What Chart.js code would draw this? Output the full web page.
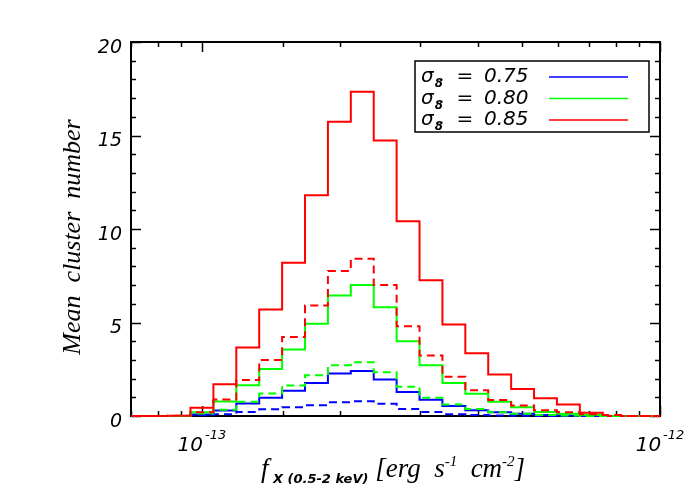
<!DOCTYPE html>
<html>
<head>
<meta charset="utf-8">
<script src="https://cdn.jsdelivr.net/npm/chart.js@4/dist/chart.umd.min.js"></script>
<style>
  html, body { margin: 0; padding: 0; background: #fff; }
  #wrap { width: 700px; height: 500px; }
</style>
</head>
<body>
<div id="wrap"><canvas id="chart" width="700" height="500"></canvas></div>
<script>
// bin centres, log10 of flux (0.05 dex bins)
const logFlux = [-13.15, -13.10, -13.05, -13.00, -12.95, -12.90, -12.85, -12.80,
  -12.75, -12.70, -12.65, -12.60, -12.55, -12.50, -12.45, -12.40,
  -12.35, -12.30, -12.25, -12.20, -12.15, -12.10, -12.05, -12.00];

// mean cluster number per bin, solid and dashed for each sigma_8
const blueSolid = [0, 0, 0, 0.08, 0.29, 0.67, 0.97, 1.35, 1.77, 2.27, 2.40, 1.95,
  1.29, 0.87, 0.53, 0.31, 0.20, 0.12, 0.06, 0.03, 0, 0, 0, 0];
const blueDash = [0, 0, 0, 0.04, 0.10, 0.22, 0.36, 0.47, 0.58, 0.74, 0.79, 0.65,
  0.37, 0.22, 0.10, 0.06, 0.03, 0.02, 0, 0, 0, 0, 0, 0];
const greenSolid = [0, 0, 0, 0.20, 0.78, 1.65, 2.52, 3.56, 4.93, 6.44, 7.00, 5.82,
  4.00, 2.72, 1.77, 1.19, 0.76, 0.47, 0.22, 0.12, 0.05, 0, 0, 0];
const greenDash = [0, 0, 0, 0.13, 0.33, 0.76, 1.20, 1.63, 2.18, 2.72, 2.88, 2.34,
  1.56, 0.97, 0.61, 0.38, 0.20, 0.12, 0.06, 0.03, 0, 0, 0, 0];
const redSolid = [0, 0, 0.02, 0.44, 1.70, 3.66, 5.70, 8.19, 11.81, 15.73, 17.34, 14.73,
  10.42, 7.26, 4.89, 3.36, 2.22, 1.45, 0.95, 0.61, 0.17, 0, 0, 0];
const redDash = [0, 0, 0.02, 0.20, 0.88, 1.92, 2.99, 4.22, 5.91, 7.75, 8.41, 7.00,
  4.80, 3.24, 2.10, 1.38, 0.85, 0.56, 0.31, 0.20, 0.10, 0.05, 0, 0];

const sigma8 = ['0.75', '0.80', '0.85'];
const colors = ['#0000ff', '#00ff00', '#ff0000'];
const yTickStep = 5;
const xLabelled = [1e-13, 1e-12];

// turn bin centres + values into step points at the bin edges
function histPoints(values) {
  const half = (logFlux[1] - logFlux[0]) / 2;
  const pts = values.map((v, i) => ({ x: Math.pow(10, logFlux[i] - half), y: v }));
  pts.push({ x: Math.pow(10, logFlux[logFlux.length - 1] + half), y: values[values.length - 1] });
  return pts;
}

function ds(values, color, dashed, order) {
  return {
    data: histPoints(values),
    borderColor: color,
    borderWidth: 2,
    borderDash: dashed ? [8, 5] : [],
    pointRadius: 0,
    stepped: 'before',
    fill: false,
    order: order,
    clip: { left: 0, top: 0, right: 0, bottom: 2 }
  };
}

const serifIt = 'italic 27px "Liberation Serif"';

// frame with inward ticks on all four sides
const framePlugin = {
  id: 'frame',
  beforeDatasetsDraw(chart) {
    const { ctx, chartArea: a, scales } = chart;
    ctx.save();
    ctx.strokeStyle = '#000';
    ctx.lineWidth = 2;
    ctx.strokeRect(a.left, a.top, a.right - a.left, a.bottom - a.top);
    ctx.lineWidth = 1.5;
    ctx.beginPath();
    for (let v = scales.y.min; v <= scales.y.max; v++) {
      const y = Math.round(scales.y.getPixelForValue(v)) + 0.5;
      const len = v % yTickStep === 0 ? 10 : 5;
      ctx.moveTo(a.left, y); ctx.lineTo(a.left + len, y);
      ctx.moveTo(a.right, y); ctx.lineTo(a.right - len, y);
    }
    scales.x.ticks.forEach(t => {
      const x = Math.round(scales.x.getPixelForValue(t.value)) + 0.5;
      const m = t.value / Math.pow(10, Math.floor(Math.log10(t.value) + 1e-9));
      const len = Math.abs(m - 1) < 1e-6 ? 10 : 5;
      ctx.moveTo(x, a.bottom); ctx.lineTo(x, a.bottom - len);
      ctx.moveTo(x, a.top); ctx.lineTo(x, a.top + len);
    });
    ctx.stroke();
    ctx.restore();
  },
  afterDraw(chart) {
    const { ctx, chartArea: a, scales } = chart;
    ctx.save();
    ctx.fillStyle = '#000';
    ctx.textBaseline = 'alphabetic';

    // x tick labels 10^-13, 10^-12
    xLabelled.forEach(v => {
      const x = scales.x.getPixelForValue(v);
      const exp = String(Math.round(Math.log10(v)));
      ctx.font = 'italic 20px "DejaVu Sans"';
      const w1 = ctx.measureText('10').width;
      ctx.font = 'italic 13px "DejaVu Sans"';
      const w2 = ctx.measureText(exp).width;
      const x0 = x - (w1 + w2 + 2) / 2;
      ctx.font = 'italic 20px "DejaVu Sans"';
      ctx.fillText('10', x0, 451);
      ctx.font = 'italic 13px "DejaVu Sans"';
      ctx.fillText(exp, x0 + w1 + 2, 439);
    });

    // x title: f_X (0.5-2 keV) [erg s^-1 cm^-2]
    const parts = [
      ['f', serifIt, 0],
      [' X (0.5-2 keV)', 'italic bold 13px "DejaVu Sans"', 6],
      [' [erg  s', serifIt, 0],
      ['-1', 'italic 15px "Liberation Serif"', -11],
      ['  cm', serifIt, 0],
      ['-2', 'italic 15px "Liberation Serif"', -11],
      [']', serifIt, 0]
    ];
    let total = 0;
    parts.forEach(p => { ctx.font = p[1]; total += ctx.measureText(p[0]).width; });
    let px = 393 - total / 2;
    parts.forEach(p => {
      ctx.font = p[1];
      ctx.fillText(p[0], px, 477 + p[2]);
      px += ctx.measureText(p[0]).width;
    });

    // y title
    ctx.save();
    ctx.translate(80, (a.top + a.bottom) / 2 + 8);
    ctx.rotate(-Math.PI / 2);
    ctx.font = 'italic 26px "Liberation Serif"';
    ctx.textAlign = 'center';
    ctx.fillText('Mean  cluster  number', 0, 0);
    ctx.restore();

    // legend box
    const bx = 415, by = 61, bw = 234, bh = 71;
    ctx.fillStyle = '#fff';
    ctx.fillRect(bx, by, bw, bh);
    ctx.strokeStyle = '#000';
    ctx.lineWidth = 1.5;
    ctx.strokeRect(bx, by, bw, bh);
    sigma8.forEach((s, i) => {
      const base = by + 21 + i * 21.5;
      ctx.fillStyle = '#000';
      ctx.font = 'italic 20px "DejaVu Sans"';
      ctx.textAlign = 'left';
      ctx.fillText('σ', bx + 6, base);
      const ws = ctx.measureText('σ').width;
      ctx.font = 'italic bold 12px "DejaVu Sans"';
      ctx.fillText('8', bx + 7 + ws, base + 5);
      ctx.font = 'italic 20px "DejaVu Sans"';
      ctx.textAlign = 'center';
      ctx.fillText('=', bx + 50, base);
      ctx.textAlign = 'left';
      ctx.fillText(s, bx + 69, base);
      ctx.strokeStyle = colors[i];
      ctx.lineWidth = 1.5;
      ctx.beginPath();
      ctx.moveTo(bx + 134, base - 5);
      ctx.lineTo(bx + 213, base - 5);
      ctx.stroke();
    });
    ctx.restore();
  }
};

new Chart(document.getElementById('chart'), {
  type: 'line',
  data: {
    datasets: [
      ds(blueSolid, colors[0], false, 6),
      ds(greenSolid, colors[1], false, 5),
      ds(redSolid, colors[2], false, 4),
      ds(blueDash, colors[0], true, 3),
      ds(greenDash, colors[1], true, 2),
      ds(redDash, colors[2], true, 1)
    ]
  },
  options: {
    responsive: false,
    animation: false,
    layout: { padding: { top: 42, right: 40, left: 0, bottom: 0 } },
    plugins: { legend: { display: false }, tooltip: { enabled: false } },
    scales: {
      x: {
        type: 'logarithmic',
        min: 7e-14,
        max: 1e-12,
        grid: { display: false },
        border: { display: false },
        ticks: { display: false },
        afterFit(s) { s.height = 84; }
      },
      y: {
        min: 0,
        max: 20,
        grid: { display: false, drawTicks: false },
        border: { display: false },
        ticks: {
          stepSize: yTickStep,
          color: '#000',
          padding: 9,
          labelOffset: 6,
          font: { family: 'DejaVu Sans', style: 'italic', size: 19 }
        },
        afterFit(s) { s.width = 131; }
      }
    }
  },
  plugins: [framePlugin]
});
</script>
</body>
</html>
